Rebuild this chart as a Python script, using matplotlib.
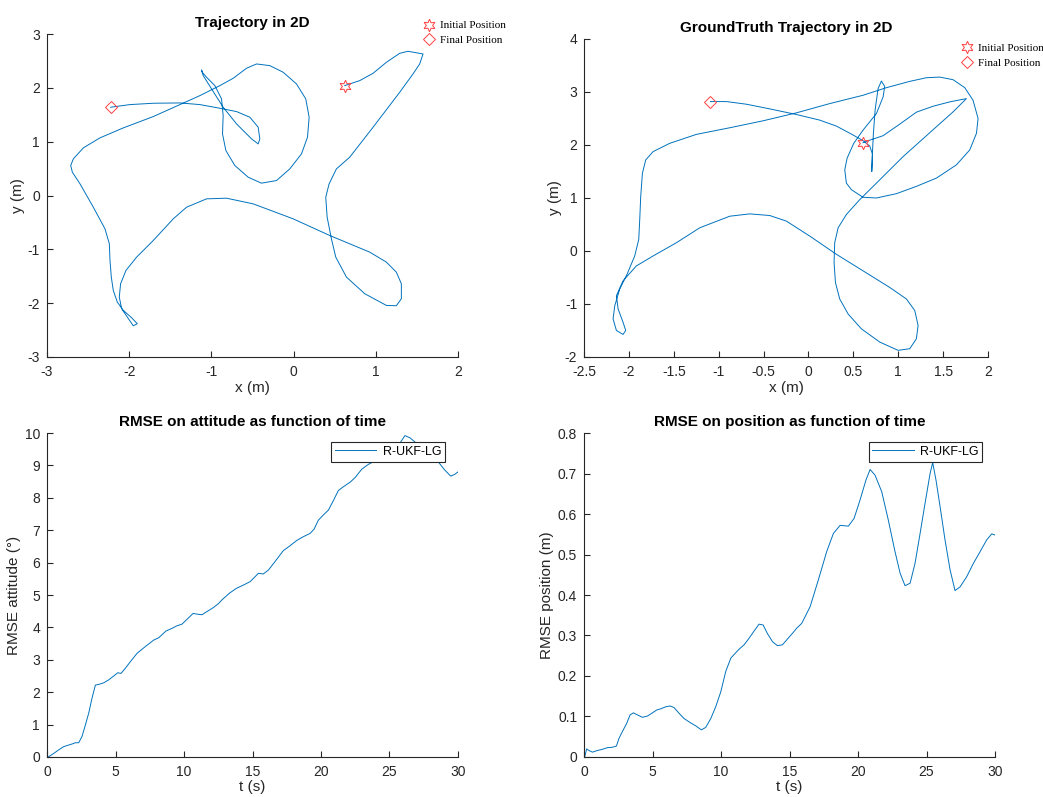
import matplotlib
matplotlib.use("Agg")
import matplotlib.pyplot as plt
from matplotlib.ticker import FormatStrFormatter

plt.rcParams['font.family'] = ['Liberation Sans', 'DejaVu Sans']

# estimated trajectory (x, y in m), from initial to final position
est_x = [0.622, 0.805, 0.967, 1.129, 1.291, 1.392, 1.575, 1.534, 1.453, 1.291,
         0.967, 0.683, 0.521, 0.432, 0.391, 0.408, 0.460, 0.513, 0.643, 0.866,
         1.129, 1.250, 1.311, 1.311, 1.250, 1.129, 0.926, 0.440, -0.006, -0.492,
         -0.816, -1.059, -1.302, -1.464, -1.707, -1.910, -2.040, -2.105, -2.121, -2.092,
         -2.023, -1.951, -1.902, -1.971, -2.072, -2.145, -2.194, -2.218, -2.234, -2.242,
         -2.295, -2.437, -2.599, -2.692, -2.712, -2.680, -2.558, -2.356, -2.072, -1.707,
         -1.383, -1.140, -0.897, -0.735, -0.573, -0.451, -0.289, -0.127, 0.035, 0.148,
         0.189, 0.169, 0.096, -0.046, -0.208, -0.391, -0.553, -0.715, -0.824, -0.865,
         -0.857, -0.877, -0.958, -1.059, -1.112, -1.120, -1.100, -0.998, -0.857, -0.694,
         -0.512, -0.431, -0.411, -0.431, -0.532, -0.694, -0.897, -1.140, -1.383, -1.707,
         -1.991, -2.226]
est_y = [2.042, 2.135, 2.271, 2.475, 2.642, 2.679, 2.630, 2.444, 2.259, 1.918,
         1.269, 0.712, 0.495, 0.217, -0.031, -0.402, -0.804, -1.145, -1.516, -1.825,
         -2.042, -2.048, -1.918, -1.640, -1.423, -1.238, -1.052, -0.743, -0.433, -0.155,
         -0.050, -0.062, -0.217, -0.433, -0.835, -1.145, -1.392, -1.640, -1.887, -2.104,
         -2.259, -2.420, -2.382, -2.271, -2.135, -1.980, -1.764, -1.516, -1.207, -0.897,
         -0.619, -0.217, 0.217, 0.433, 0.557, 0.681, 0.885, 1.071, 1.256, 1.467,
         1.689, 1.856, 2.042, 2.178, 2.364, 2.444, 2.413, 2.290, 2.073, 1.795,
         1.454, 1.083, 0.774, 0.495, 0.278, 0.229, 0.340, 0.557, 0.835, 1.145,
         1.485, 1.795, 2.042, 2.197, 2.290, 2.333, 2.228, 1.980, 1.640, 1.330,
         1.052, 0.959, 1.052, 1.269, 1.454, 1.559, 1.621, 1.689, 1.720, 1.714,
         1.689, 1.640]

# ground truth trajectory
gt_x = [0.608, 0.664, 0.831, 1.017, 1.202, 1.388, 1.573, 1.759, 1.611, 1.425,
        1.054, 0.757, 0.571, 0.422, 0.330, 0.292, 0.285, 0.300, 0.348, 0.441,
        0.589, 0.794, 0.998, 1.128, 1.202, 1.221, 1.184, 1.091, 0.905, 0.608,
        0.311, 0.014, -0.246, -0.432, -0.654, -0.877, -1.211, -1.471, -1.731, -1.917,
        -2.066, -2.140, -2.121, -2.066, -2.036, -2.066, -2.140, -2.177, -2.158, -2.103,
        -2.021, -1.936, -1.891, -1.880, -1.869, -1.850, -1.813, -1.731, -1.546, -1.249,
        -0.877, -0.506, -0.135, 0.237, 0.608, 0.868, 1.128, 1.314, 1.462, 1.611,
        1.741, 1.833, 1.889, 1.871, 1.796, 1.648, 1.425, 1.202, 0.979, 0.757,
        0.608, 0.478, 0.422, 0.404, 0.430, 0.504, 0.608, 0.757, 0.831, 0.849,
        0.812, 0.775, 0.742, 0.723, 0.712, 0.705, 0.712, 0.682, 0.608, 0.497,
        0.311, 0.125, -0.135, -0.432, -0.692, -0.914, -1.093]
gt_y = [2.044, 2.081, 2.175, 2.394, 2.619, 2.731, 2.813, 2.875, 2.625, 2.344,
        1.781, 1.281, 0.969, 0.688, 0.438, 0.156, -0.219, -0.594, -0.906, -1.188,
        -1.469, -1.719, -1.875, -1.844, -1.656, -1.406, -1.125, -0.906, -0.688, -0.375,
        -0.063, 0.281, 0.563, 0.669, 0.700, 0.656, 0.438, 0.156, -0.094, -0.281,
        -0.563, -0.844, -1.094, -1.344, -1.500, -1.575, -1.500, -1.281, -1.031, -0.719,
        -0.438, -0.094, 0.219, 0.594, 1.031, 1.469, 1.719, 1.875, 2.031, 2.200,
        2.325, 2.456, 2.606, 2.781, 2.938, 3.081, 3.200, 3.269, 3.281, 3.231,
        3.081, 2.844, 2.500, 2.219, 1.906, 1.625, 1.375, 1.219, 1.081, 1.000,
        1.013, 1.156, 1.281, 1.531, 1.750, 2.031, 2.281, 2.594, 2.906, 3.106,
        3.206, 3.063, 2.656, 2.219, 1.844, 1.500, 1.831, 1.981, 2.081, 2.188,
        2.356, 2.469, 2.575, 2.681, 2.769, 2.819, 2.819]

# RMSE on attitude (deg) vs time (s)
att_t = [0, 0.12, 0.49, 0.85, 1.22, 1.58, 1.82, 2.07, 2.31, 2.55, 2.80, 3.04, 3.28,
         3.53, 3.77, 4.14, 4.50, 4.87, 5.16, 5.40, 5.72, 6.08, 6.57, 7.18, 7.79,
         8.15, 8.69, 9.12, 9.49, 9.85, 10.22, 10.66, 10.95, 11.31, 11.68, 12.17,
         12.53, 12.77, 13.3, 13.8, 14.3, 14.82, 15.06, 15.43, 15.79, 16.16, 16.64,
         17.25, 17.74, 18.22, 18.71, 19.20, 19.49, 19.81, 20.17, 20.54, 20.90,
         21.26, 21.63, 22.12, 22.48, 22.97, 23.45, 24.0, 24.5, 25.0, 25.28, 25.7,
         26.13, 26.5, 26.98, 27.5, 28.0, 28.56, 29.03, 29.47, 29.75, 30.0]
att_rmse = [0, 0.01, 0.11, 0.22, 0.32, 0.37, 0.40, 0.44, 0.44, 0.63, 0.99, 1.35, 1.81,
            2.22, 2.24, 2.29, 2.38, 2.50, 2.60, 2.58, 2.74, 2.94, 3.20, 3.41, 3.61,
            3.68, 3.89, 3.97, 4.05, 4.10, 4.25, 4.43, 4.41, 4.39, 4.49, 4.62,
            4.74, 4.85, 5.05, 5.2, 5.3, 5.41, 5.51, 5.67, 5.65, 5.77, 6.03,
            6.37, 6.52, 6.68, 6.80, 6.90, 7.03, 7.31, 7.47, 7.62, 7.91,
            8.22, 8.34, 8.48, 8.62, 8.88, 9.03, 9.15, 9.25, 9.35, 9.42, 9.65,
            9.92, 9.85, 9.68, 9.5, 9.35, 9.11, 8.86, 8.67, 8.72, 8.80]

# RMSE on position (m) vs time (s)
pos_t = [0, 0.05, 0.19, 0.36, 0.61, 0.97, 1.34, 1.70, 2.07, 2.36, 2.55, 2.80, 3.11,
         3.36, 3.60, 3.89, 4.26, 4.62, 4.99, 5.30, 5.60, 5.96, 6.28, 6.57, 6.93,
         7.30, 7.74, 8.15, 8.56, 8.88, 9.25, 9.61, 9.98, 10.34, 10.71, 10.95, 11.31,
         11.68, 12.04, 12.41, 12.77, 13.07, 13.38, 13.75, 14.11, 14.48, 14.84, 15.28,
         15.52, 15.89, 16.50, 17.10, 17.71, 18.20, 18.69, 19.29, 19.71, 20.15, 20.58,
         20.88, 21.24, 21.73, 22.21, 22.70, 23.07, 23.43, 23.80, 24.16, 24.53, 24.89,
         25.26, 25.45, 25.69, 25.99, 26.35, 26.72, 27.08, 27.45, 27.93, 28.42, 28.91,
         29.39, 29.76, 30.0]
pos_rmse = [0, 0.001, 0.020, 0.016, 0.012, 0.016, 0.019, 0.023, 0.024, 0.027, 0.046,
            0.063, 0.083, 0.104, 0.109, 0.104, 0.098, 0.101, 0.109, 0.116, 0.119,
            0.124, 0.126, 0.122, 0.108, 0.095, 0.085, 0.077, 0.067, 0.073, 0.095,
            0.124, 0.161, 0.211, 0.244, 0.253, 0.266, 0.277, 0.293, 0.311, 0.328,
            0.326, 0.305, 0.285, 0.275, 0.277, 0.291, 0.308, 0.318, 0.330, 0.371,
            0.437, 0.507, 0.552, 0.572, 0.570, 0.589, 0.635, 0.684, 0.710, 0.696,
            0.655, 0.585, 0.507, 0.454, 0.423, 0.429, 0.478, 0.552, 0.626, 0.700,
            0.727, 0.684, 0.618, 0.536, 0.462, 0.411, 0.420, 0.445, 0.478, 0.507,
            0.536, 0.551, 0.548]

blue = '#0072BD'
axc = '#262626'

fig = plt.figure(figsize=(10.43, 7.97), dpi=100)
ax1 = fig.add_axes([0.0451, 0.5521, 0.394, 0.4052])
ax2 = fig.add_axes([0.560, 0.5521, 0.3873, 0.399])
ax3 = fig.add_axes([0.0451, 0.0502, 0.394, 0.4065])
ax4 = fig.add_axes([0.560, 0.0502, 0.394, 0.4065])

for ax in (ax1, ax2, ax3, ax4):
    for s in ('top', 'right'):
        ax.spines[s].set_visible(False)
    for s in ('left', 'bottom'):
        ax.spines[s].set_color(axc)
        ax.spines[s].set_linewidth(0.8)
    ax.tick_params(direction='in', length=4, width=0.8, colors=axc,
                   labelsize=10, labelcolor=axc)
    ax.tick_params(axis='x', pad=5.5)
    ax.tick_params(axis='y', pad=5)
    ax.yaxis.set_major_formatter(FormatStrFormatter('%g'))
    ax.xaxis.set_major_formatter(FormatStrFormatter('%g'))

star = (6, 1, 0)


def traj(ax, xs, ys, title, leg_anchor):
    ax.plot(xs, ys, color=blue, lw=0.7)
    h1, = ax.plot(xs[0], ys[0], ls='none', marker=star, ms=9, mfc='none',
                  mec='#ff4040', mew=0.7)
    h2, = ax.plot(xs[-1], ys[-1], ls='none', marker='D', ms=6.5, mfc='none',
                  mec='#ff4040', mew=0.7)
    ax.set_title(title, fontsize=11, fontweight='bold', pad=5)
    ax.set_xlabel('x (m)', fontsize=11, color=axc, labelpad=2)
    ax.set_ylabel('y (m)', fontsize=11, color=axc, labelpad=2)
    fig.legend([h1, h2], ['Initial Position', 'Final Position'], loc='upper left',
               bbox_to_anchor=leg_anchor, frameon=False,
               prop={'family': 'Liberation Serif', 'size': 8},
               handlelength=1.2, handletextpad=0.4, labelspacing=0.45,
               borderaxespad=0, borderpad=0)


traj(ax1, est_x, est_y, 'Trajectory in 2D', (0.405, 0.974))
ax1.set_xlim(-3, 2)
ax1.set_ylim(-3, 3)
ax1.set_xticks([-3, -2, -1, 0, 1, 2])
ax1.set_yticks([-3, -2, -1, 0, 1, 2, 3])

traj(ax2, gt_x, gt_y, 'GroundTruth Trajectory in 2D', (0.921, 0.946))
ax2.set_xlim(-2.5, 2)
ax2.set_ylim(-2, 4)
ax2.set_xticks([-2.5, -2, -1.5, -1, -0.5, 0, 0.5, 1, 1.5, 2])
ax2.set_yticks([-2, -1, 0, 1, 2, 3, 4])


def rmse(ax, t, v, title, ylabel, ymax, yticks):
    ax.plot(t, v, color=blue, lw=0.7, label='R-UKF-LG')
    ax.set_xlim(0, 30)
    ax.set_ylim(0, ymax)
    ax.set_xticks([0, 5, 10, 15, 20, 25, 30])
    ax.set_yticks(yticks)
    ax.set_title(title, fontsize=11, fontweight='bold', pad=5)
    ax.set_xlabel('t (s)', fontsize=11, color=axc, labelpad=1)
    ax.set_ylabel(ylabel, fontsize=11, color=axc, labelpad=3)
    leg = ax.legend(loc='upper right', bbox_to_anchor=(1 - 13 / 411, 1 - 9 / 324),
                    borderaxespad=0, fancybox=False, framealpha=1, fontsize=9,
                    handlelength=3.3, handletextpad=0.5, borderpad=0.3)
    leg.get_frame().set_edgecolor(axc)
    leg.get_frame().set_linewidth(0.8)


rmse(ax3, att_t, att_rmse, 'RMSE on attitude as function of time',
     'RMSE attitude (°)', 10, list(range(0, 11)))
rmse(ax4, pos_t, pos_rmse, 'RMSE on position as function of time',
     'RMSE position (m)', 0.8, [0, 0.1, 0.2, 0.3, 0.4, 0.5, 0.6, 0.7, 0.8])

fig.savefig('out.png', dpi=100)
